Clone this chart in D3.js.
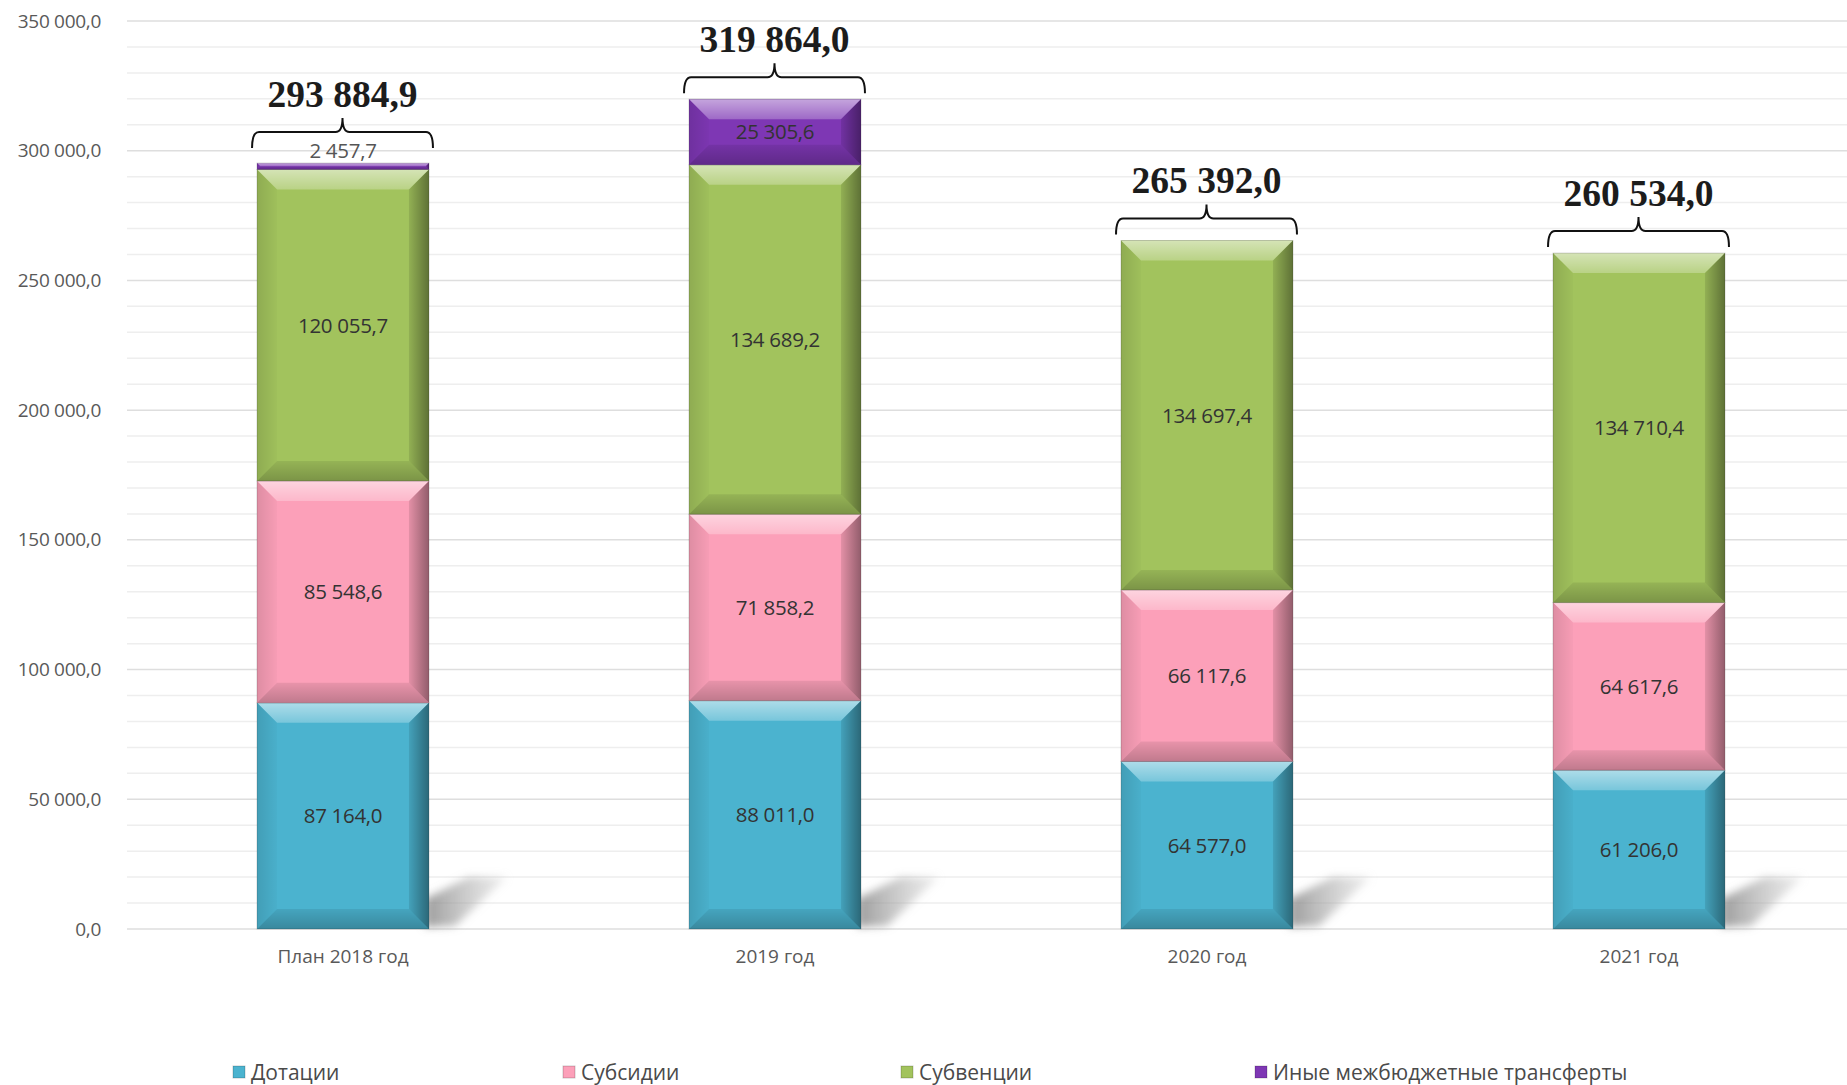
<!DOCTYPE html>
<html>
<head>
<meta charset="utf-8">
<script src="https://cdn.jsdelivr.net/npm/d3@7"></script>
<style>
  body { margin: 0; background: #fff; }
  svg { display: block; }
</style>
</head>
<body>
<div id="holder"></div>
<script>
// data
const categories = ["План 2018 год", "2019 год", "2020 год", "2021 год"];
const seriesNames = ["Дотации", "Субсидии", "Субвенции", "Иные межбюджетные трансферты"];
const dotacii   = [87164.0, 88011.0, 64577.0, 61206.0];
const subsidii  = [85548.6, 71858.2, 66117.6, 64617.6];
const subvencii = [120055.7, 134689.2, 134697.4, 134710.4];
const inye      = [2457.7, 25305.6, 0, 0];
const totals    = [293884.9, 319864.0, 265392.0, 260534.0];
const colors = ["#4bb3cf", "#fca0b9", "#a2c35d", "#7e37b4"];

const W = 1847, H = 1085;
const fmt = d3.formatLocale({ decimal: ",", thousands: "\u00a0", grouping: [3] }).format(",.1f");

const rows = categories.map((c, i) => ({
  cat: c, total: totals[i],
  "Дотации": dotacii[i], "Субсидии": subsidii[i],
  "Субвенции": subvencii[i], "Иные межбюджетные трансферты": inye[i]
}));
const stacked = d3.stack().keys(seriesNames)(rows);

const x = d3.scaleBand().domain(categories).range([127, 1855]).paddingInner(0.602).paddingOuter(0.301);
const y = d3.scaleLinear().domain([0, 350000]).range([929, 21]);

const svg = d3.select('#holder').append('svg').attr('width', W).attr('height', H)
  .style('font-family', '"Open Sans", sans-serif');
const defs = svg.append('defs');

function grad(id, x2, y2, stops) {
  const g = defs.append('linearGradient').attr('id', id)
    .attr('x1', 0).attr('y1', 0).attr('x2', x2).attr('y2', y2);
  stops.forEach(s => g.append('stop').attr('offset', s[0]).attr('stop-color', s[1]).attr('stop-opacity', s[2]));
}
grad('gTop', 0, 1, [[0, '#fff', 0.55], [1, '#fff', 0.25]]);
grad('gRight', 1, 0, [[0, '#000', 0.1], [1, '#000', 0.42]]);
grad('gLeft', 1, 0, [[0, '#000', 0.12], [1, '#000', 0.02]]);
grad('gBottom', 0, 1, [[0, '#000', 0.08], [1, '#000', 0.24]]);
grad('gShadow', 1, 0, [[0, '#8a8a8a', 0.85], [1, '#bbb', 0.25]]);
defs.append('filter').attr('id', 'blur').attr('x', -0.3).attr('y', -0.3).attr('width', 1.6).attr('height', 1.6)
  .append('feGaussianBlur').attr('stdDeviation', 4.5);

// gridlines
svg.append('g').selectAll('line').data(y.ticks(35)).join('line')
  .attr('x1', 127).attr('x2', W).attr('y1', d => y(d)).attr('y2', d => y(d))
  .attr('stroke', d => d % 50000 === 0 ? '#dedede' : '#eeeeee').attr('stroke-width', 1.5);

// y axis labels
const yAxis = svg.append('g').attr('transform', 'translate(101,0)')
  .call(d3.axisLeft(y).ticks(7).tickFormat(fmt).tickSize(0).tickPadding(0));
yAxis.select('.domain').remove();
yAxis.selectAll('text').attr('font-size', 19).attr('fill', '#595959')
  .attr('font-family', '"Open Sans", sans-serif').attr('letter-spacing', -0.3);

// shadows behind bars
const bw = x.bandwidth();
svg.append('g').selectAll('polygon').data(rows).join('polygon')
  .attr('points', d => {
    const R = x(d.cat) + bw, B = y(0);
    return [[R - 4, B - 2], [R - 4, B - 30], [R + 40, B - 52], [R + 78, B - 52], [R + 26, B - 3]].join(' ');
  })
  .attr('fill', 'url(#gShadow)').attr('filter', 'url(#blur)');

// bars with bevel
stacked.forEach((s, si) => {
  const g = svg.append('g');
  s.forEach((seg, i) => {
    const v = seg[1] - seg[0];
    if (v <= 0) return;
    const x0 = x(categories[i]), x1 = x0 + bw, y0 = y(seg[1]), y1 = y(seg[0]);
    const h = y1 - y0, b = Math.min(20, h / 2);
    g.append('rect').attr('x', x0).attr('y', y0).attr('width', bw).attr('height', h).attr('fill', colors[si]);
    const poly = (pts, f) => g.append('polygon').attr('points', pts.join(' ')).attr('fill', f);
    poly([[x0, y0], [x1, y0], [x1 - b, y0 + b], [x0 + b, y0 + b]], 'url(#gTop)');
    poly([[x0, y1], [x1, y1], [x1 - b, y1 - b], [x0 + b, y1 - b]], 'url(#gBottom)');
    poly([[x0, y0], [x0 + b, y0 + b], [x0 + b, y1 - b], [x0, y1]], 'url(#gLeft)');
    poly([[x1, y0], [x1 - b, y0 + b], [x1 - b, y1 - b], [x1, y1]], 'url(#gRight)');
    g.append('rect').attr('x', x0).attr('y', y0).attr('width', bw).attr('height', h)
      .attr('fill', 'none').attr('stroke', 'rgba(0,0,0,0.18)').attr('stroke-width', 1);

    const small = h < 22;
    g.append('text')
      .attr('x', x0 + bw / 2)
      .attr('y', small ? y0 - 12 : (y0 + y1) / 2)
      .attr('dy', '0.36em').attr('text-anchor', 'middle')
      .attr('font-size', 20.5).attr('letter-spacing', -0.3)
      .attr('fill', small ? '#555' : '#333')
      .text(fmt(v));
  });
});

// braces with totals
function bracePath(a, c, yh, yEnd, yTip) {
  const r = 7, m = (a + c) / 2;
  return `M${a},${yEnd} Q${a},${yh} ${a + r},${yh} L${m - r},${yh} Q${m},${yh} ${m},${yTip}` +
         ` Q${m},${yh} ${m + r},${yh} L${c - r},${yh} Q${c},${yh} ${c},${yEnd}`;
}
const tg = svg.append('g');
rows.forEach((d, i) => {
  const top = y(d3.max(stacked, s => s[i][1]));
  const extra = (inye[i] > 0 && y(0) - y(inye[i]) < 22) ? 9 : 0;
  const a = x(d.cat) - 5, c = x(d.cat) + bw + 4;
  tg.append('path').attr('d', bracePath(a, c, top - 22 - extra, top - 6 - extra, top - 36 - extra))
    .attr('fill', 'none').attr('stroke', '#111').attr('stroke-width', 2);
  tg.append('text').attr('x', (a + c) / 2).attr('y', top - 47 - extra)
    .attr('text-anchor', 'middle').attr('font-family', '"Liberation Serif", serif')
    .attr('font-weight', 'bold').attr('font-size', 37.5).attr('fill', '#1c1c1c')
    .text(fmt(d.total));
});

// category labels
const xAxis = svg.append('g').attr('transform', `translate(0,${y(0)})`)
  .call(d3.axisBottom(x).tickSize(0).tickPadding(21));
xAxis.select('.domain').remove();
xAxis.selectAll('text').attr('font-size', 19).attr('fill', '#595959')
  .attr('font-family', '"Open Sans", sans-serif').attr('letter-spacing', 0);

// legend
const legendPos = [233, 563, 901, 1255];
const lg = svg.append('g').selectAll('g').data(seriesNames).join('g')
  .attr('transform', (d, i) => `translate(${legendPos[i]},1072)`);
lg.append('rect').attr('x', 0).attr('y', -6).attr('width', 12).attr('height', 12)
  .attr('fill', (d, i) => colors[i]).attr('stroke', 'rgba(0,0,0,0.2)');
lg.append('text').attr('x', 18).attr('dy', '0.36em').attr('font-size', 21)
  .attr('fill', '#4a4a4a').attr('letter-spacing', 0).text(d => d);
</script>
</body>
</html>
